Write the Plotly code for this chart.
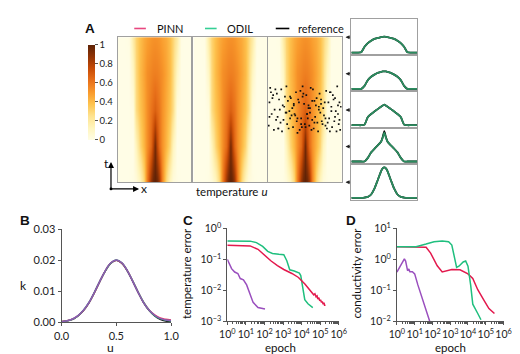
import plotly.graph_objects as go

W, H = 520, 354
def fx(p): return p / W
def fy(p): return 1 - p / H

FONT = "Lato"
AX = "#555555"
C_PINN = "#e3194d"
C_ODIL = "#1fbf7e"
C_NEW = "#9a4fbe"
C_PROF = "#2b8c5f"

# ---------------- data ----------------
# temperature profiles u(x) at t = 0, 0.25, 0.5, 0.75, 1
prof_x = [0, 0.05, 0.1, 0.15, 0.2, 0.25, 0.3, 0.35, 0.4, 0.45, 0.475, 0.5,
          0.525, 0.55, 0.6, 0.65, 0.7, 0.75, 0.8, 0.85, 0.9, 0.95, 1]
prof_t = [0.0, 0.25, 0.5, 0.75, 1.0]
u_t0 = [0, 0, 0, 0, 0.01, 0.03, 0.11, 0.3, 0.58, 0.87, 0.97, 1.0,
        0.97, 0.87, 0.58, 0.3, 0.11, 0.03, 0.01, 0, 0, 0, 0]
u_t025 = [0, 0, 0, 0, 0, 0.12, 0.3, 0.42, 0.53, 0.65, 0.78, 0.95,
          0.78, 0.65, 0.53, 0.42, 0.3, 0.12, 0, 0, 0, 0, 0]
u_t05 = [0, 0, 0, 0, 0.02, 0.27, 0.37, 0.45, 0.53, 0.61, 0.645, 0.68,
         0.645, 0.61, 0.53, 0.45, 0.37, 0.27, 0.02, 0, 0, 0, 0]
u_t075 = [0, 0, 0, 0, 0.1, 0.29, 0.4, 0.47, 0.53, 0.56, 0.575, 0.58,
          0.575, 0.56, 0.53, 0.47, 0.4, 0.29, 0.1, 0, 0, 0, 0]
u_t1 = [0, 0, 0, 0.01, 0.19, 0.31, 0.39, 0.45, 0.48, 0.51, 0.52, 0.525,
        0.52, 0.51, 0.48, 0.45, 0.39, 0.31, 0.19, 0.01, 0, 0, 0]
ref_t025 = [0, 0, 0, 0, 0, 0.12, 0.3, 0.42, 0.53, 0.65, 0.8, 1.0,
            0.8, 0.65, 0.53, 0.42, 0.3, 0.12, 0, 0, 0, 0, 0]

# measurement points (x, t) in the reference field
dots_x = [0.03, 0.12, 0.25, 0.31, 0.44, 0.52, 0.61, 0.72, 0.85, 0.94,
          0.07, 0.18, 0.27, 0.38, 0.47, 0.58, 0.66, 0.79, 0.88, 0.97,
          0.02, 0.15, 0.22, 0.35, 0.41, 0.55, 0.63, 0.75, 0.82, 0.91,
          0.09, 0.2, 0.29, 0.33, 0.49, 0.57, 0.69, 0.77, 0.86, 0.99,
          0.05, 0.13, 0.24, 0.37, 0.45, 0.53, 0.64, 0.71, 0.83, 0.95,
          0.11, 0.17, 0.3, 0.39, 0.5, 0.6, 0.67, 0.78, 0.9, 0.96,
          0.01, 0.14, 0.26, 0.34, 0.43, 0.56, 0.62, 0.74, 0.87, 0.93,
          0.08, 0.19, 0.28, 0.4, 0.46, 0.59, 0.68, 0.8, 0.84, 0.98,
          0.04, 0.16, 0.23, 0.36, 0.48, 0.54, 0.65, 0.73, 0.89, 0.92,
          0.06, 0.21, 0.32, 0.42, 0.51, 0.57, 0.7, 0.76, 0.81, 0.95,
          0.1, 0.25, 0.35, 0.45, 0.53, 0.6, 0.69, 0.78, 0.86, 0.02,
          0.14, 0.3, 0.4, 0.47, 0.55, 0.63, 0.72, 0.84, 0.91, 0.97]
dots_t = [0.65, 0.61, 0.66, 0.58, 0.63, 0.6, 0.64, 0.57, 0.62, 0.66,
          0.6, 0.64, 0.56, 0.62, 0.59, 0.65, 0.58, 0.63, 0.6, 0.55,
          0.55, 0.57, 0.52, 0.54, 0.57, 0.53, 0.56, 0.51, 0.55, 0.58,
          0.5, 0.53, 0.49, 0.51, 0.54, 0.48, 0.52, 0.55, 0.49, 0.52,
          0.47, 0.45, 0.48, 0.46, 0.44, 0.47, 0.45, 0.48, 0.44, 0.47,
          0.43, 0.41, 0.44, 0.42, 0.4, 0.43, 0.41, 0.44, 0.42, 0.4,
          0.39, 0.37, 0.4, 0.38, 0.36, 0.39, 0.37, 0.4, 0.38, 0.35,
          0.36, 0.35, 0.37, 0.34, 0.38, 0.36, 0.35, 0.37, 0.35, 0.36,
          0.62, 0.5, 0.59, 0.47, 0.61, 0.44, 0.53, 0.42, 0.57, 0.49,
          0.58, 0.43, 0.46, 0.55, 0.38, 0.51, 0.61, 0.46, 0.41, 0.53,
          0.64, 0.48, 0.53, 0.4, 0.47, 0.56, 0.5, 0.39, 0.52, 0.45,
          0.37, 0.59, 0.44, 0.66, 0.51, 0.41, 0.54, 0.62, 0.45, 0.43]

# panel B: conductivity k(u)
u_vals = [0, 0.05, 0.1, 0.15, 0.2, 0.25, 0.3, 0.35, 0.4, 0.45, 0.5,
          0.55, 0.6, 0.65, 0.7, 0.75, 0.8, 0.85, 0.9, 0.95, 1.0]
k_ref = [0.0002, 0.0005, 0.0010, 0.0021, 0.0038, 0.0063, 0.0096, 0.0132, 0.0166, 0.0191, 0.0200,
         0.0191, 0.0166, 0.0132, 0.0096, 0.0063, 0.0038, 0.0021, 0.0010, 0.0004, 0.0001]
k_pinn = [0.0003, 0.0005, 0.0010, 0.0021, 0.0038, 0.0063, 0.0096, 0.0132, 0.0166, 0.0191, 0.0200,
          0.0191, 0.0167, 0.0133, 0.0097, 0.0064, 0.0040, 0.0024, 0.0014, 0.0010, 0.0008]
k_odil = [0.0002, 0.0005, 0.0010, 0.0021, 0.0039, 0.0064, 0.0097, 0.0133, 0.0166, 0.0191, 0.0201,
          0.0192, 0.0167, 0.0133, 0.0097, 0.0064, 0.0039, 0.0022, 0.0012, 0.0007, 0.0005]
k_new = [0.0002, 0.0005, 0.0011, 0.0022, 0.0039, 0.0064, 0.0097, 0.0133, 0.0167, 0.0192, 0.0201,
         0.0192, 0.0167, 0.0132, 0.0096, 0.0063, 0.0039, 0.0023, 0.0013, 0.0008, 0.0006]

# panel C: temperature error vs epoch
c_pinn_ep = [1, 3, 10, 17, 45, 100, 220, 500, 1100, 3000, 6800, 15000, 33000, 40000, 45000,
             52000, 60000, 68000, 75000, 85000, 95000, 105000, 118000, 130000, 145000,
             160000, 175000, 180000]
c_pinn = [0.285, 0.28, 0.275, 0.27, 0.21, 0.134, 0.09, 0.063, 0.047, 0.035, 0.026, 0.016,
          0.009, 0.0085, 0.0072, 0.0078, 0.0062, 0.0066, 0.0052, 0.0058, 0.0046, 0.005,
          0.0041, 0.0044, 0.0036, 0.004, 0.0032, 0.0035]
c_odil_ep = [1, 5, 17, 37, 80, 150, 270, 600, 1100, 1600, 2300, 4000, 7600, 9000, 11200,
             14800, 22000, 40000]
c_odil = [0.39, 0.39, 0.385, 0.345, 0.26, 0.18, 0.155, 0.145, 0.14, 0.09, 0.046, 0.042,
          0.036, 0.03, 0.012, 0.005, 0.0037, 0.0028]
c_new_ep = [1, 1.2, 1.7, 2.5, 3.7, 5, 7.4, 11, 16.6, 24.5, 45, 107]
c_new = [0.1, 0.08, 0.05, 0.039, 0.035, 0.024, 0.022, 0.015, 0.0072, 0.0041, 0.0028, 0.0025]

# panel D: conductivity error vs epoch
d_pinn_ep = [1, 44, 79, 186, 355, 1230, 3550, 10000, 18600, 35500, 81300, 151000, 309000]
d_pinn = [2.55, 2.43, 1.58, 0.62, 0.39, 0.47, 0.46, 0.34, 0.24, 0.105, 0.047, 0.026, 0.018]
d_odil_ep = [1, 12, 44, 123, 355, 813, 1230, 1740, 2290, 3090, 5370, 7410, 10000, 14100,
             18600, 35500, 53700]
d_odil = [2.55, 2.55, 3.1, 3.7, 3.9, 3.7, 2.87, 1.0, 0.55, 0.6, 0.82, 0.88, 0.6, 0.15,
          0.036, 0.018, 0.0113]
d_new_ep = [1, 1.66, 2.63, 3.09, 3.98, 4.68, 5.37, 7.41, 10, 15.1, 28.2, 53.7, 70.8]
d_new = [0.39, 0.62, 1.04, 0.88, 0.43, 0.49, 0.4, 0.4, 0.34, 0.15, 0.047, 0.014, 0.01]

# tick labels
cbar_ticks = [0, 0.2, 0.4, 0.6, 0.8, 1]
cbar_text = ["0", "0.2", "0.4", "0.6", "0.8", "1"]
b_xticks = [0, 0.5, 1.0]
b_xtext = ["0.0", "0.5", "1.0"]
b_yticks = [0, 0.01, 0.02, 0.03]
b_ytext = ["0.00", "0.01", "0.02", "0.03"]
ep_ticks = [1, 10, 100, 1000, 10000, 100000, 1000000]
ep_text = ["10<sup>0</sup>", "10<sup>1</sup>", "10<sup>2</sup>", "10<sup>3</sup>",
           "10<sup>4</sup>", "10<sup>5</sup>", "10<sup>6</sup>"]
c_yticks = [0.001, 0.01, 0.1, 1]
c_ytext = ["10<sup>\u22123</sup>", "10<sup>\u22122</sup>", "10<sup>\u22121</sup>", "10<sup>0</sup>"]
d_yticks = [0.01, 0.1, 1, 10]
d_ytext = ["10<sup>\u22122</sup>", "10<sup>\u22121</sup>", "10<sup>0</sup>", "10<sup>1</sup>"]

# ---------------- figure ----------------
fig = go.Figure()

field = [u_t0, u_t025, u_t05, u_t075, u_t1]
cscale = [[0.0, "#fffde6"], [0.125, "#fff5bd"], [0.25, "#fee391"], [0.375, "#fec44f"],
          [0.5, "#f99a2c"], [0.625, "#e8701a"], [0.75, "#c84c06"], [0.875, "#923405"],
          [1.0, "#5e2206"]]

for i in range(3):
    n = "" if i == 0 else str(i + 1)
    fig.add_trace(go.Heatmap(
        x=prof_x, y=prof_t, z=field, zmin=0, zmax=1, zsmooth="best",
        colorscale=cscale, xaxis="x" + n, yaxis="y" + n, showscale=(i == 0),
        hoverinfo="skip",
        colorbar=dict(x=fx(74), xanchor="left", y=fy(30), yanchor="top",
                      len=99 / H, lenmode="fraction", thickness=7, xpad=0, ypad=0,
                      outlinewidth=0, ticks="outside", ticklen=3, tickcolor=AX,
                      tickvals=cbar_ticks, ticktext=cbar_text,
                      tickfont=dict(size=9.5, family=FONT, color="#222"))))

fig.add_trace(go.Scatter(x=dots_x, y=dots_t, mode="markers", xaxis="x3", yaxis="y3",
                         marker=dict(color="#111", size=1.7, symbol="square", line=dict(width=0)),
                         showlegend=False, hoverinfo="skip"))

# profile panels (top = t=1)
ref_profiles = [u_t1, u_t075, u_t05, ref_t025, u_t0]
odil_profiles = [u_t1, u_t075, u_t05, u_t025, u_t0]
for j in range(5):
    a = str(4 + j)
    fig.add_trace(go.Scatter(x=prof_x, y=ref_profiles[j], mode="lines", xaxis="x" + a, yaxis="y" + a,
                             line=dict(color="black", width=1.8, shape="spline", smoothing=0.5),
                             showlegend=False, hoverinfo="skip"))
    fig.add_trace(go.Scatter(x=prof_x, y=odil_profiles[j], mode="lines", xaxis="x" + a, yaxis="y" + a,
                             line=dict(color=C_PROF, width=1.8, shape="spline", smoothing=0.5),
                             showlegend=False, hoverinfo="skip"))

# panel B
for yy, col in [(k_ref, "black"), (k_pinn, C_PINN), (k_odil, C_ODIL), (k_new, C_NEW)]:
    fig.add_trace(go.Scatter(x=u_vals, y=yy, mode="lines", xaxis="x9", yaxis="y9",
                             line=dict(color=col, width=1.5, shape="spline"),
                             opacity=0.85, showlegend=False, hoverinfo="skip"))

# panel C
for xx, yy, col in [(c_new_ep, c_new, C_NEW), (c_odil_ep, c_odil, C_ODIL), (c_pinn_ep, c_pinn, C_PINN)]:
    fig.add_trace(go.Scatter(x=xx, y=yy, mode="lines", xaxis="x10", yaxis="y10",
                             line=dict(color=col, width=1.5), showlegend=False, hoverinfo="skip"))
# panel D
for xx, yy, col in [(d_new_ep, d_new, C_NEW), (d_pinn_ep, d_pinn, C_PINN), (d_odil_ep, d_odil, C_ODIL)]:
    fig.add_trace(go.Scatter(x=xx, y=yy, mode="lines", xaxis="x11", yaxis="y11",
                             line=dict(color=col, width=1.5), showlegend=False, hoverinfo="skip"))

layout = dict(width=W, height=H, margin=dict(l=0, r=0, t=0, b=0),
              paper_bgcolor="white", plot_bgcolor="rgba(0,0,0,0)",
              font=dict(family=FONT, size=11, color="#222"), showlegend=False)

def frame_axes(xd, yd):
    base = dict(showgrid=False, zeroline=False, showticklabels=False, ticks="",
                showline=True, mirror=True, linecolor="#a0a0a0", linewidth=1.2, fixedrange=True)
    return dict(base, domain=xd, range=[0, 1]), dict(base, domain=yd)

# heatmap panels
hm_x = [(105, 181), (183, 259), (260, 336)]
for i, (l, r) in enumerate(hm_x):
    n = "" if i == 0 else str(i + 1)
    xa, ya = frame_axes([fx(l), fx(r)], [fy(173), fy(22)])
    ya["range"] = [0, 1]
    xa["anchor"] = "y" + n
    ya["anchor"] = "x" + n
    layout["xaxis" + n] = xa
    layout["yaxis" + n] = ya

# profile panels
edges = [3, 40.8, 78.6, 116.4, 154.2, 192]
for j in range(5):
    a = str(4 + j)
    xa, ya = frame_axes([fx(346), fx(414)], [fy(edges[j + 1]), fy(edges[j])])
    ya["range"] = [-0.085, 1.11]
    xa["anchor"] = "y" + a
    ya["anchor"] = "x" + a
    layout["xaxis" + a] = xa
    layout["yaxis" + a] = ya

def data_axis(size=11, **kw):
    d = dict(showgrid=False, zeroline=False, showline=True, linecolor=AX, linewidth=1,
             ticks="outside", ticklen=3, tickcolor=AX, tickangle=0,
             tickfont=dict(size=size, family=FONT, color="#222"), fixedrange=True)
    d.update(kw)
    return d

layout["xaxis9"] = data_axis(domain=[fx(47), fx(160)], range=[0, 1], anchor="y9",
                             tickmode="array", tickvals=b_xticks, ticktext=b_xtext)
layout["yaxis9"] = data_axis(domain=[fy(319), fy(222)], range=[0, 0.03], anchor="x9",
                             tickmode="array", tickvals=b_yticks, ticktext=b_ytext)

minor_vals = [m * 10 ** e for e in range(0, 6) for m in range(2, 10)]
layout["xaxis10"] = data_axis(size=10.5, domain=[fx(218), fx(333)], type="log", range=[0, 6], anchor="y10",
                              tickmode="array", tickvals=ep_ticks, ticktext=ep_text,
                              minor=dict(tickvals=minor_vals, ticks="outside", ticklen=2, tickcolor=AX))
layout["yaxis10"] = data_axis(size=10.5, domain=[fy(318), fy(221)], type="log", range=[-3, 0], anchor="x10",
                              tickmode="array", tickvals=c_yticks, ticktext=c_ytext)
layout["xaxis11"] = data_axis(size=10.5, domain=[fx(393), fx(503)], type="log", range=[0, 6], anchor="y11",
                              tickmode="array", tickvals=ep_ticks, ticktext=ep_text,
                              minor=dict(tickvals=minor_vals, ticks="outside", ticklen=2, tickcolor=AX))
layout["yaxis11"] = data_axis(size=10.5, domain=[fy(318), fy(221)], type="log", range=[-2, 1], anchor="x11",
                              tickmode="array", tickvals=d_yticks, ticktext=d_ytext)

fig.update_layout(**layout)

def txt(x, y, s, size=11.5, bold=False, angle=0, xanchor="center"):
    fig.add_annotation(x=fx(x), y=fy(y), xref="paper", yref="paper", text=("<b>%s</b>" % s) if bold else s,
                       showarrow=False, textangle=angle, xanchor=xanchor, yanchor="middle",
                       font=dict(size=size, family=("Liberation Sans" if bold else FONT), color="#111"))

# panel letters
txt(76, 13, "A", size=13.5, bold=True)
txt(9, 213, "B", size=13.5, bold=True)
txt(177, 213, "C", size=13.5, bold=True)
txt(346, 213, "D", size=13.5, bold=True)

# legend (drawn)
for (x0, x1, col, label, tx) in [(122, 134, "#e8477f", "PINN", 143), (195, 207, "#35cf95", "ODIL", 216),
                                 (268, 282, "black", "reference", 289)]:
    fig.add_shape(type="line", xref="paper", yref="paper", x0=fx(x0), x1=fx(x1), y0=fy(13), y1=fy(13),
                  line=dict(color=col, width=1.6))
    txt(tx, 13, label, size=11, xanchor="left")

# axis titles
txt(222, 183, "temperature <i>u</i>", size=11.5)
txt(8, 281, "k", size=12)
txt(98, 345, "u", size=12)
txt(176, 268, "temperature error", size=11.5, angle=-90)
txt(273, 345, "epoch", size=11.5)
txt(351, 268, "conductivity error", size=11.5, angle=-90)
txt(448, 345, "epoch", size=11.5)

# t / x arrows
fig.add_shape(type="circle", xref="paper", yref="paper", x0=fx(96.5), x1=fx(99.5), y0=fy(181.5), y1=fy(178.5),
              fillcolor="black", line=dict(width=0))
fig.add_annotation(x=fx(98), y=fy(152), xref="paper", yref="paper", ax=0, ay=28, text="",
                   showarrow=True, arrowhead=2, arrowsize=1, arrowwidth=1.2, arrowcolor="black")
fig.add_annotation(x=fx(127), y=fy(180), xref="paper", yref="paper", ax=-29, ay=0, text="",
                   showarrow=True, arrowhead=2, arrowsize=1, arrowwidth=1.2, arrowcolor="black")
txt(93, 154, "t", size=12)
txt(132, 180, "x", size=12)

# arrows pointing to the profile panels
for yy in [22, 60, 98, 136, 173]:
    fig.add_annotation(x=fx(340), y=fy(yy), xref="paper", yref="paper", ax=6, ay=0, text="",
                       showarrow=True, arrowhead=2, arrowsize=0.8, arrowwidth=1, arrowcolor="#222")

fig.write_html("out.html")
